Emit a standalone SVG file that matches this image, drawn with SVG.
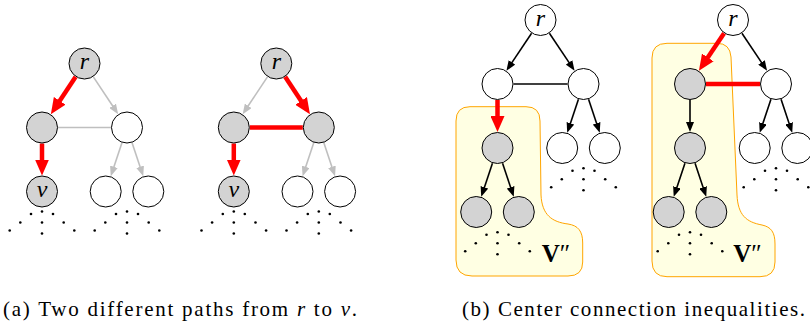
<svg xmlns="http://www.w3.org/2000/svg" width="810" height="324" viewBox="0 0 810 324">
<style>
.nd{stroke:#000;stroke-width:1;}
.w{fill:#fff;}
.g{fill:#d3d3d3;}
.lbl{font-family:"Liberation Serif",serif;font-style:italic;font-size:24px;text-anchor:middle;}
.cap{font-family:"Liberation Serif",serif;font-size:21px;}
.red{stroke:#ff0000;stroke-width:4.5;fill:none;}
.blk{stroke:#000;stroke-width:1.6;fill:none;}
.gry{stroke:#bfbfbf;stroke-width:1.6;fill:none;}
.ra{marker-end:url(#mr);}
.ba{marker-end:url(#mb);}
.ga{marker-end:url(#mg);}
.region{fill:#ffffe3;stroke:#ffa500;stroke-width:1;}
.vl{font-family:"Liberation Serif",serif;font-size:25px;font-weight:bold;}
.dots circle{fill:#000;}
</style>
<defs>
<marker id="mr" markerUnits="userSpaceOnUse" viewBox="0 0 16 14" markerWidth="16" markerHeight="14" refX="4" refY="7" orient="auto"><path d="M0,0 L16,7 L0,14 z" fill="#ff0000"/></marker>
<marker id="mb" markerUnits="userSpaceOnUse" viewBox="0 0 10 8" markerWidth="10" markerHeight="8" refX="2" refY="4" orient="auto"><path d="M0,0 L10,4 L0,8 z" fill="#000"/></marker>
<marker id="mg" markerUnits="userSpaceOnUse" viewBox="0 0 10 8" markerWidth="10" markerHeight="8" refX="2" refY="4" orient="auto"><path d="M0,0 L10,4 L0,8 z" fill="#bfbfbf"/></marker>
<g id="dotfan">
<circle cx="0" cy="0" r="1.3"/><circle cx="0" cy="11" r="1.3"/><circle cx="0" cy="22" r="1.3"/>
<circle cx="-11" cy="2.5" r="1.3"/><circle cx="-21.7" cy="11" r="1.3"/><circle cx="-32.3" cy="19" r="1.3"/>
<circle cx="11" cy="2.5" r="1.3"/><circle cx="21.7" cy="11" r="1.3"/><circle cx="32.3" cy="19" r="1.3"/>
</g>
</defs>

<!-- regions -->
<g id="region-b1">
<path class="region" d="M470,106.7 L526,106.7 Q540,106.7 540,121 L541,195 C542,215 552,222 568,224 C578,225.5 582.7,231 582.7,243 L582.7,262 Q582.7,276 568,276 L472,276 Q456,276 456,260 L456,121 Q456,106.7 470,106.7 Z"/>
<text class="vl" x="541.7" y="261.7">V<tspan font-weight="normal">″</tspan></text>
</g>
<g id="region-b2">
<path class="region" d="M667,43.3 L717,43.3 Q730,43.3 731,57 L737,195 C738,215 746,222 762,225 C771,227 775,232 775,244 L775,262 Q775,276.7 760,276.7 L667,276.7 Q652,276.7 652,261 L652,58 Q652,43.3 667,43.3 Z"/>
<text class="vl" x="733.3" y="261.7">V<tspan font-weight="normal">″</tspan></text>
</g>

<!-- connectors -->
<g id="connectors">
<!-- (a) left -->
<line class="red ra" x1="75.65" y1="76.83" x2="57.49" y2="104.17"/>
<line class="gry ga" x1="93.35" y1="76.83" x2="113.72" y2="107.51"/>
<line class="gry" x1="58" y1="127.5" x2="111" y2="127.5"/>
<line class="red ra" x1="42" y1="143.5" x2="42" y2="163.5"/>
<line class="gry ga" x1="121.95" y1="142.68" x2="113.28" y2="168.73"/>
<line class="gry ga" x1="132.05" y1="142.68" x2="140.72" y2="168.73"/>
<!-- (a) right -->
<line class="gry ga" x1="267.45" y1="76.83" x2="247.08" y2="107.51"/>
<line class="red ra" x1="285.15" y1="76.83" x2="303.31" y2="104.17"/>
<line class="red" stroke-width="5" x1="249.8" y1="127.5" x2="302.8" y2="127.5"/>
<line class="red ra" x1="233.8" y1="143.5" x2="233.8" y2="163.5"/>
<line class="gry ga" x1="313.75" y1="142.68" x2="305.08" y2="168.73"/>
<line class="gry ga" x1="323.85" y1="142.68" x2="332.52" y2="168.73"/>
<!-- (b) middle -->
<line class="blk ba" x1="531.58" y1="33.28" x2="510.88" y2="64.08"/>
<line class="blk ba" x1="549.42" y1="33.28" x2="570.12" y2="64.08"/>
<line class="blk" x1="513.5" y1="84" x2="567.5" y2="84"/>
<line class="red ra" x1="497.5" y1="100" x2="497.5" y2="120"/>
<line class="blk ba" x1="578.45" y1="99.18" x2="569.78" y2="125.23"/>
<line class="blk ba" x1="588.55" y1="99.18" x2="597.22" y2="125.23"/>
<line class="blk ba" x1="492.45" y1="163.18" x2="483.78" y2="189.23"/>
<line class="blk ba" x1="502.55" y1="163.18" x2="511.22" y2="189.23"/>
<!-- (b) right -->
<line class="red ra" x1="724.08" y1="33.28" x2="705.61" y2="60.76"/>
<line class="blk ba" x1="741.92" y1="33.28" x2="762.62" y2="64.08"/>
<line class="red" stroke-width="5" x1="706" y1="84" x2="760" y2="84"/>
<line class="blk ba" x1="690" y1="100" x2="690" y2="124"/>
<line class="blk ba" x1="770.95" y1="99.18" x2="762.28" y2="125.23"/>
<line class="blk ba" x1="781.05" y1="99.18" x2="789.72" y2="125.23"/>
<line class="blk ba" x1="684.95" y1="163.18" x2="676.28" y2="189.23"/>
<line class="blk ba" x1="695.05" y1="163.18" x2="703.72" y2="189.23"/>
</g>

<!-- dots -->
<g id="dots" class="dots">
<use href="#dotfan" x="42" y="211.5"/>
<use href="#dotfan" x="127" y="211.5"/>
<use href="#dotfan" x="233.8" y="211.5"/>
<use href="#dotfan" x="318.8" y="211.5"/>
<use href="#dotfan" x="583.5" y="168.3"/>
<use href="#dotfan" x="497.5" y="232.3"/>
<use href="#dotfan" x="776" y="168.3"/>
<use href="#dotfan" x="690" y="232.3"/>
</g>

<!-- (a) left nodes -->
<g id="a1-r"><circle class="nd g" cx="84.5" cy="63.5" r="15.5"/><text class="lbl" x="84.5" y="69">r</text></g>
<g id="a1-L"><circle class="nd g" cx="42" cy="127.5" r="15.5"/></g>
<g id="a1-R"><circle class="nd w" cx="127" cy="127.5" r="15.5"/></g>
<g id="a1-v"><circle class="nd g" cx="42" cy="191.5" r="15.5"/><text class="lbl" x="42" y="197">v</text></g>
<g id="a1-B1"><circle class="nd w" cx="105.7" cy="191.5" r="15.5"/></g>
<g id="a1-B2"><circle class="nd w" cx="148.3" cy="191.5" r="15.5"/></g>
<!-- (a) right nodes -->
<g id="a2-r"><circle class="nd g" cx="276.3" cy="63.5" r="15.5"/><text class="lbl" x="276.3" y="69">r</text></g>
<g id="a2-L"><circle class="nd g" cx="233.8" cy="127.5" r="15.5"/></g>
<g id="a2-R"><circle class="nd g" cx="318.8" cy="127.5" r="15.5"/></g>
<g id="a2-v"><circle class="nd g" cx="233.8" cy="191.5" r="15.5"/><text class="lbl" x="233.8" y="197">v</text></g>
<g id="a2-B1"><circle class="nd w" cx="297.5" cy="191.5" r="15.5"/></g>
<g id="a2-B2"><circle class="nd w" cx="340.1" cy="191.5" r="15.5"/></g>
<!-- (b) middle nodes -->
<g id="b1-r"><circle class="nd w" cx="540.5" cy="20" r="15.5"/><text class="lbl" x="540.5" y="25.5">r</text></g>
<g id="b1-L"><circle class="nd w" cx="497.5" cy="84" r="15.5"/></g>
<g id="b1-R"><circle class="nd w" cx="583.5" cy="84" r="15.5"/></g>
<g id="b1-G"><circle class="nd g" cx="497.5" cy="148" r="15.5"/></g>
<g id="b1-RB1"><circle class="nd w" cx="562.2" cy="148" r="15.5"/></g>
<g id="b1-RB2"><circle class="nd w" cx="604.8" cy="148" r="15.5"/></g>
<g id="b1-G1"><circle class="nd g" cx="476.2" cy="212" r="15.5"/></g>
<g id="b1-G2"><circle class="nd g" cx="518.8" cy="212" r="15.5"/></g>
<!-- (b) right nodes -->
<g id="b2-r"><circle class="nd w" cx="733" cy="20" r="15.5"/><text class="lbl" x="733" y="25.5">r</text></g>
<g id="b2-L"><circle class="nd g" cx="690" cy="84" r="15.5"/></g>
<g id="b2-R"><circle class="nd w" cx="776" cy="84" r="15.5"/></g>
<g id="b2-G"><circle class="nd g" cx="690" cy="148" r="15.5"/></g>
<g id="b2-RB1"><circle class="nd w" cx="754.7" cy="148" r="15.5"/></g>
<g id="b2-RB2"><circle class="nd w" cx="797.3" cy="148" r="15.5"/></g>
<g id="b2-G1"><circle class="nd g" cx="668.7" cy="212" r="15.5"/></g>
<g id="b2-G2"><circle class="nd g" cx="711.3" cy="212" r="15.5"/></g>

<!-- captions -->
<text class="cap" x="3" y="316" textLength="354" lengthAdjust="spacing">(a) Two different paths from <tspan font-style="italic">r</tspan> to <tspan font-style="italic">v</tspan>.</text>
<text class="cap" x="462" y="316" textLength="343" lengthAdjust="spacing">(b) Center connection inequalities.</text>
</svg>
